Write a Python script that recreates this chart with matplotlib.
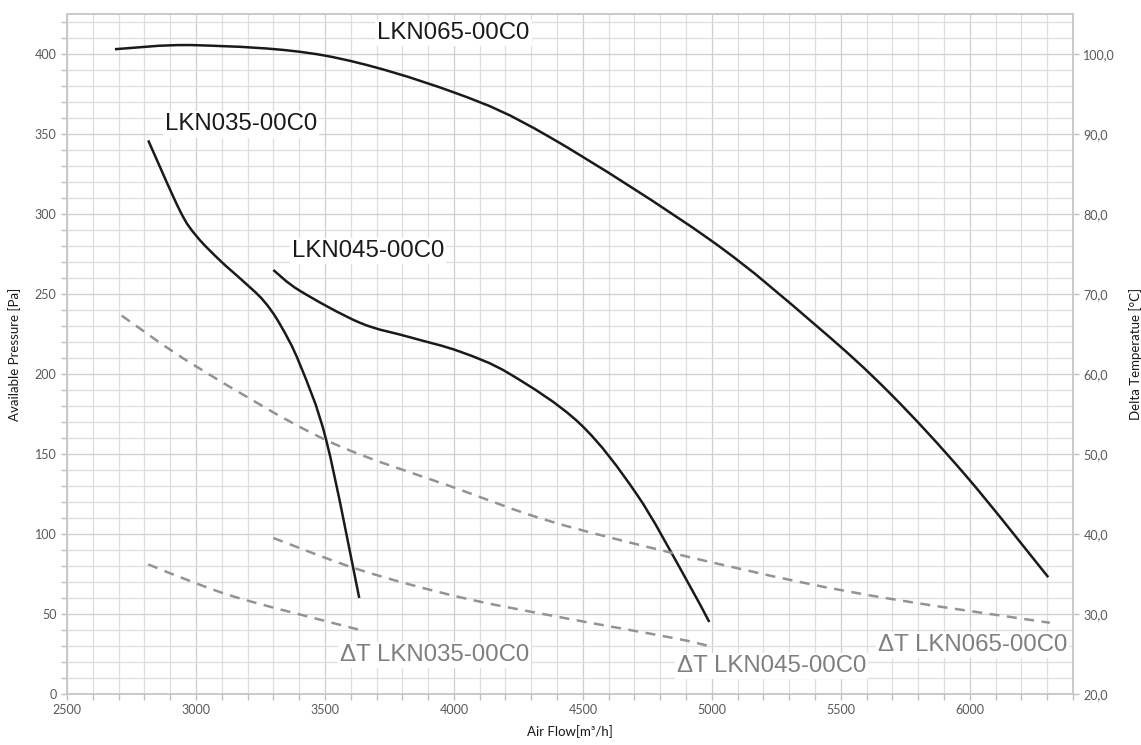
import matplotlib
matplotlib.use("Agg")
import matplotlib.pyplot as plt
from matplotlib.path import Path
from matplotlib.patches import PathPatch
from matplotlib.ticker import MultipleLocator, FuncFormatter

# fan curves: air flow [m3/h] -> available pressure [Pa]
x_065 = [2686, 3000, 3500, 4000, 4372, 4992, 5406, 5690, 5987, 6304]
p_065 = [403, 405.5, 399, 376, 348, 284, 230, 188, 136, 73]

x_035 = [2815, 2938, 3003, 3093, 3183, 3261, 3326, 3403, 3506, 3633]
p_035 = [346, 302, 286, 271, 258, 246, 231, 206, 158, 60]

x_045 = [3300, 3403, 3636, 3829, 4023, 4217, 4488, 4708, 4889, 4990]
p_045 = [265, 252, 232, 223, 214, 200, 169, 125, 75, 45]

# delta temperature curves [°C]
xt_065 = [2712, 3003, 3507, 4010, 4372, 4850, 5341, 5729, 6310]
t_065 = [67.3, 60.9, 51.7, 45.7, 41.6, 37.6, 34.0, 31.7, 28.9]

xt_045 = [3300, 3636, 4023, 4411, 4850, 4988]
t_045 = [39.5, 35.5, 32.1, 29.6, 27.0, 26.0]

xt_035 = [2815, 3003, 3197, 3636]
t_035 = [36.2, 33.8, 31.7, 28.0]

labels = ["LKN065-00C0", "LKN035-00C0", "LKN045-00C0"]
dt_labels = ["ΔT LKN035-00C0", "ΔT LKN045-00C0", "ΔT LKN065-00C0"]

tick_font = "Lato"
lbl_font = ["Liberation Sans", "DejaVu Sans"]
grey_txt = "#595959"


def smooth_line(a, xs, ys, **kw):
    # Excel-style smoothed line: Bezier segments through the points
    pts = list(zip(xs, ys))
    verts = [pts[0]]
    codes = [Path.MOVETO]
    n = len(pts)
    for i in range(n - 1):
        p0 = pts[i - 1] if i > 0 else pts[i]
        p1 = pts[i]
        p2 = pts[i + 1]
        p3 = pts[i + 2] if i + 2 < n else pts[i + 1]
        c1 = (p1[0] + (p2[0] - p0[0]) / 6, p1[1] + (p2[1] - p0[1]) / 6)
        c2 = (p2[0] - (p3[0] - p1[0]) / 6, p2[1] - (p3[1] - p1[1]) / 6)
        verts += [c1, c2, p2]
        codes += [Path.CURVE4] * 3
    a.add_patch(PathPatch(Path(verts, codes), facecolor="none", **kw))


fig = plt.figure(figsize=(11.41, 7.45), dpi=100)
ax = fig.add_axes([0.0587, 0.0685, 0.8817, 0.9127])
ax2 = ax.twinx()

ax.set_xlim(2500, 6400)
ax.set_ylim(0, 425)
ax2.set_ylim(20, 105)

ax.xaxis.set_major_locator(MultipleLocator(500))
ax.xaxis.set_minor_locator(MultipleLocator(100))
ax.yaxis.set_major_locator(MultipleLocator(50))
ax.yaxis.set_minor_locator(MultipleLocator(10))
ax2.yaxis.set_major_locator(MultipleLocator(10))
ax2.yaxis.set_major_formatter(FuncFormatter(lambda v, p: f"{v:.1f}".replace(".", ",")))

ax.grid(which="minor", color="#dedede", lw=0.9)
ax.grid(which="major", color="#cfcfcf", lw=0.9)
ax.set_axisbelow(True)

for a in (ax, ax2):
    for s in a.spines.values():
        s.set_color("#c8c8c8")
        s.set_linewidth(1.1)
    a.tick_params(which="both", color="#bfbfbf", length=4, width=1,
                  labelsize=9, labelcolor=grey_txt)
    for t in a.get_xticklabels() + a.get_yticklabels():
        t.set_fontfamily(tick_font)

solid = dict(edgecolor="#1a1a1a", lw=1.8, capstyle="butt")
smooth_line(ax, x_065, p_065, **solid)
smooth_line(ax, x_035, p_035, **solid)
smooth_line(ax, x_045, p_045, **solid)

dashed = dict(edgecolor="#939393", lw=1.8, linestyle=(0, (4, 3)))
smooth_line(ax2, xt_065, t_065, **dashed)
smooth_line(ax2, xt_045, t_045, **dashed)
smooth_line(ax2, xt_035, t_035, **dashed)

box = dict(facecolor="white", edgecolor="none", pad=1.5)
fs = 17.3
ax.text(3702, 413, labels[0], fontsize=fs, family=lbl_font, color="#1a1a1a",
        va="center", ha="left", bbox=box)
ax.text(2880, 356, labels[1], fontsize=fs, family=lbl_font, color="#1a1a1a",
        va="center", ha="left", bbox=box)
ax.text(3372, 277, labels[2], fontsize=fs, family=lbl_font, color="#1a1a1a",
        va="center", ha="left", bbox=box)

ax.text(3558, 24.3, dt_labels[0], fontsize=fs, family=lbl_font, color="#7f7f7f",
        va="center", ha="left", bbox=box)
ax.text(4864, 17.5, dt_labels[1], fontsize=fs, family=lbl_font, color="#7f7f7f",
        va="center", ha="left", bbox=box)
ax.text(5643, 30.6, dt_labels[2], fontsize=fs, family=lbl_font, color="#7f7f7f",
        va="center", ha="left", bbox=box)

ax.set_xlabel("Air Flow[m³/h]", fontsize=9.5, family=tick_font, color="#1a1a1a", labelpad=6)
ax.set_ylabel("Available Pressure [Pa]", fontsize=9.5, family=tick_font, color="#1a1a1a", labelpad=10)
ax2.set_ylabel("Delta Temperatue [°C]", fontsize=9.5, family=tick_font, color="#1a1a1a", labelpad=10)

fig.savefig("out.png", dpi=100)
